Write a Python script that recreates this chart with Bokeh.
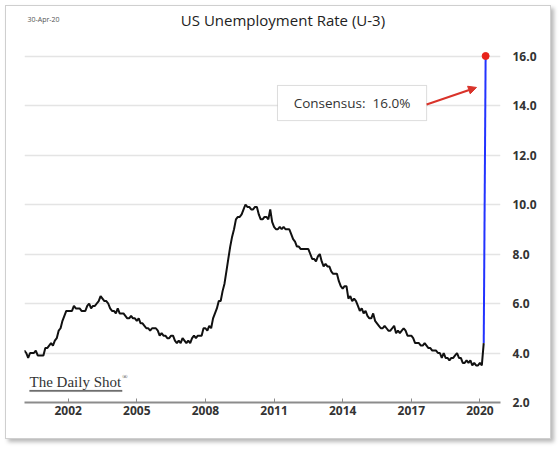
from bokeh.plotting import figure
from bokeh.models import (Range1d, FixedTicker, Label, Arrow, NormalHead,
                          BoxAnnotation, PrintfTickFormatter)
from bokeh.embed import file_html
from bokeh.resources import INLINE

# Monthly US unemployment rate (U-3), seasonally adjusted, %
rate_2000s = [
    4.0, 4.1, 4.0, 3.8, 4.0, 4.0, 4.0, 4.1, 3.9, 3.9, 3.9, 3.9,   # 2000
    4.2, 4.2, 4.3, 4.4, 4.3, 4.5, 4.6, 4.9, 5.0, 5.3, 5.5, 5.7,   # 2001
    5.7, 5.7, 5.7, 5.9, 5.8, 5.8, 5.8, 5.7, 5.7, 5.7, 5.9, 6.0,   # 2002
    5.8, 5.9, 5.9, 6.0, 6.1, 6.3, 6.2, 6.1, 6.1, 6.0, 5.8, 5.7,   # 2003
    5.7, 5.6, 5.8, 5.6, 5.6, 5.6, 5.5, 5.4, 5.4, 5.5, 5.4, 5.4,   # 2004
    5.3, 5.4, 5.2, 5.2, 5.1, 5.0, 5.0, 4.9, 5.0, 5.0, 5.0, 4.9,   # 2005
    4.7, 4.8, 4.7, 4.7, 4.6, 4.6, 4.7, 4.7, 4.5, 4.4, 4.5, 4.4,   # 2006
    4.6, 4.5, 4.4, 4.5, 4.4, 4.6, 4.7, 4.6, 4.7, 4.7, 4.7, 5.0,   # 2007
    5.0, 4.9, 5.1, 5.0, 5.4, 5.6, 5.8, 6.1, 6.1, 6.5, 6.8, 7.3,   # 2008
    7.8, 8.3, 8.7, 9.0, 9.4, 9.5, 9.5, 9.6, 9.8, 10.0, 9.9, 9.9,  # 2009
]
rate_2010s = [
    9.8, 9.8, 9.9, 9.9, 9.6, 9.4, 9.4, 9.5, 9.5, 9.4, 9.8, 9.3,   # 2010
    9.1, 9.0, 9.0, 9.1, 9.0, 9.1, 9.0, 9.0, 9.0, 8.8, 8.6, 8.5,   # 2011
    8.3, 8.3, 8.2, 8.2, 8.2, 8.2, 8.2, 8.0, 7.8, 7.8, 7.7, 7.9,   # 2012
    8.0, 7.7, 7.5, 7.6, 7.5, 7.5, 7.3, 7.2, 7.2, 7.2, 6.9, 6.7,   # 2013
    6.6, 6.7, 6.7, 6.2, 6.3, 6.1, 6.2, 6.1, 5.9, 5.7, 5.8, 5.6,   # 2014
    5.7, 5.5, 5.4, 5.4, 5.6, 5.3, 5.2, 5.1, 5.0, 5.0, 5.1, 5.0,   # 2015
    4.9, 4.9, 5.0, 5.1, 4.8, 4.9, 4.8, 4.9, 5.0, 4.9, 4.7, 4.7,   # 2016
    4.7, 4.6, 4.4, 4.4, 4.4, 4.3, 4.3, 4.4, 4.3, 4.2, 4.2, 4.1,   # 2017
    4.1, 4.1, 4.0, 4.0, 3.8, 4.0, 3.8, 3.8, 3.7, 3.8, 3.8, 3.9,   # 2018
    4.0, 3.8, 3.8, 3.6, 3.6, 3.7, 3.6, 3.7, 3.5, 3.6, 3.5, 3.5,   # 2019
]
rate_2020 = [3.6, 3.5, 4.4]   # Jan-Mar 2020
consensus_apr_2020 = 16.0     # April 2020 consensus forecast

start_year = 2000
year_ticks = [2002, 2005, 2008, 2011, 2014, 2017, 2020]
rate_ticks = [2.0, 4.0, 6.0, 8.0, 10.0, 12.0, 14.0, 16.0]

rates = rate_2000s + rate_2010s + rate_2020
dates = [start_year + i / 12 for i in range(len(rates))]
consensus_x = [dates[-1], dates[-1] + 1 / 12]
consensus_y = [rates[-1], consensus_apr_2020]

FONT = "Open Sans"

# The frame reaches the top of the card so the header texts can sit in it.
p = figure(
    width=546, height=434,
    output_backend="svg", toolbar_location=None,
    x_range=Range1d(2000.09, 2020.9), y_range=Range1d(2.0, 18.0),
    y_axis_location="right",
    min_border_left=18, min_border_right=52,
    min_border_top=0, min_border_bottom=38,
    background_fill_color="white", border_fill_color="white",
    margin=(5, 0, 0, 5),
    styles={"border": "1px solid #cfcfcf",
            "box-shadow": "3px 3px 4px rgba(0,0,0,0.28)"},
)
p.outline_line_color = None
p.xgrid.visible = False
p.ygrid.grid_line_color = "#e4e4e4"
p.ygrid.grid_line_width = 1.5

# bottom (date) axis
p.xaxis.ticker = FixedTicker(ticks=year_ticks)
p.xaxis.axis_line_color = "#8c8c8c"
p.xaxis.axis_line_width = 2
p.xaxis.major_tick_line_color = "#8c8c8c"
p.xaxis.major_tick_in = 4
p.xaxis.major_tick_out = 0
p.xaxis.minor_tick_line_color = None
p.xaxis.major_label_standoff = 3
p.xaxis.major_label_text_font = FONT
p.xaxis.major_label_text_font_style = "bold"
p.xaxis.major_label_text_font_size = "12px"
p.xaxis.major_label_text_color = "#333333"

# right (rate) axis
p.yaxis.ticker = FixedTicker(ticks=rate_ticks)
p.yaxis.formatter = PrintfTickFormatter(format="%.1f")
p.yaxis.axis_line_color = None
p.yaxis.major_tick_line_color = None
p.yaxis.minor_tick_line_color = None
p.yaxis.major_tick_in = 0
p.yaxis.major_tick_out = 0
p.yaxis.major_label_standoff = 12
p.yaxis.major_label_text_font = FONT
p.yaxis.major_label_text_font_style = "bold"
p.yaxis.major_label_text_font_size = "12px"
p.yaxis.major_label_text_color = "#333333"

# history and consensus jump
p.line(dates, rates, line_color="#111111", line_width=2)
p.line(consensus_x, consensus_y, line_color="#2233ff", line_width=2)
p.scatter([consensus_x[-1]], [consensus_apr_2020], size=7,
          fill_color="#e8231a", line_color="#e8231a")

# consensus call-out
p.add_layout(BoxAnnotation(left=2011.15, right=2017.67, bottom=13.39, top=14.81,
                           fill_color="white", fill_alpha=1.0,
                           line_color="#8a8a8a", line_width=1))
p.add_layout(Label(x=2014.41, y=14.1,
                   text=f"Consensus:\u00a0\u00a0{consensus_apr_2020:.1f}%",
                   text_align="center", text_baseline="middle",
                   text_font=FONT, text_font_size="13.5px", text_color="#333333"))
p.add_layout(Arrow(x_start=2017.67, y_start=14.04, x_end=2019.85, y_end=14.73,
                   line_color="#d9332a", line_width=2,
                   end=NormalHead(size=8, fill_color="#d9332a", line_color="#d9332a")))

# header texts
p.add_layout(Label(x=2011.39, y=17.47, text="US Unemployment Rate (U-3)",
                   text_align="center", text_baseline="middle",
                   text_font=FONT, text_font_size="15px", text_color="#222222"))
p.add_layout(Label(x=2000.22, y=17.47, text="30-Apr-20",
                   text_align="left", text_baseline="middle",
                   text_font=FONT, text_font_size="7px", text_color="#555555"))

# brand mark
p.add_layout(Label(x=2000.31, y=2.82, text="The Daily Shot",
                   text_align="left", text_baseline="middle",
                   text_font="Liberation Serif", text_font_size="15px",
                   text_color="#333333"))
p.add_layout(Label(x=2004.36, y=3.05, text="\u00ae",
                   text_align="left", text_baseline="middle",
                   text_font="Liberation Serif", text_font_size="7px",
                   text_color="#333333"))
p.add_layout(BoxAnnotation(left=2000.31, right=2004.36, bottom=2.44, top=2.50,
                           fill_color="#444444", fill_alpha=1.0,
                           line_color="#444444", line_width=0.5))

open("out.html", "w").write(file_html(p, INLINE))
